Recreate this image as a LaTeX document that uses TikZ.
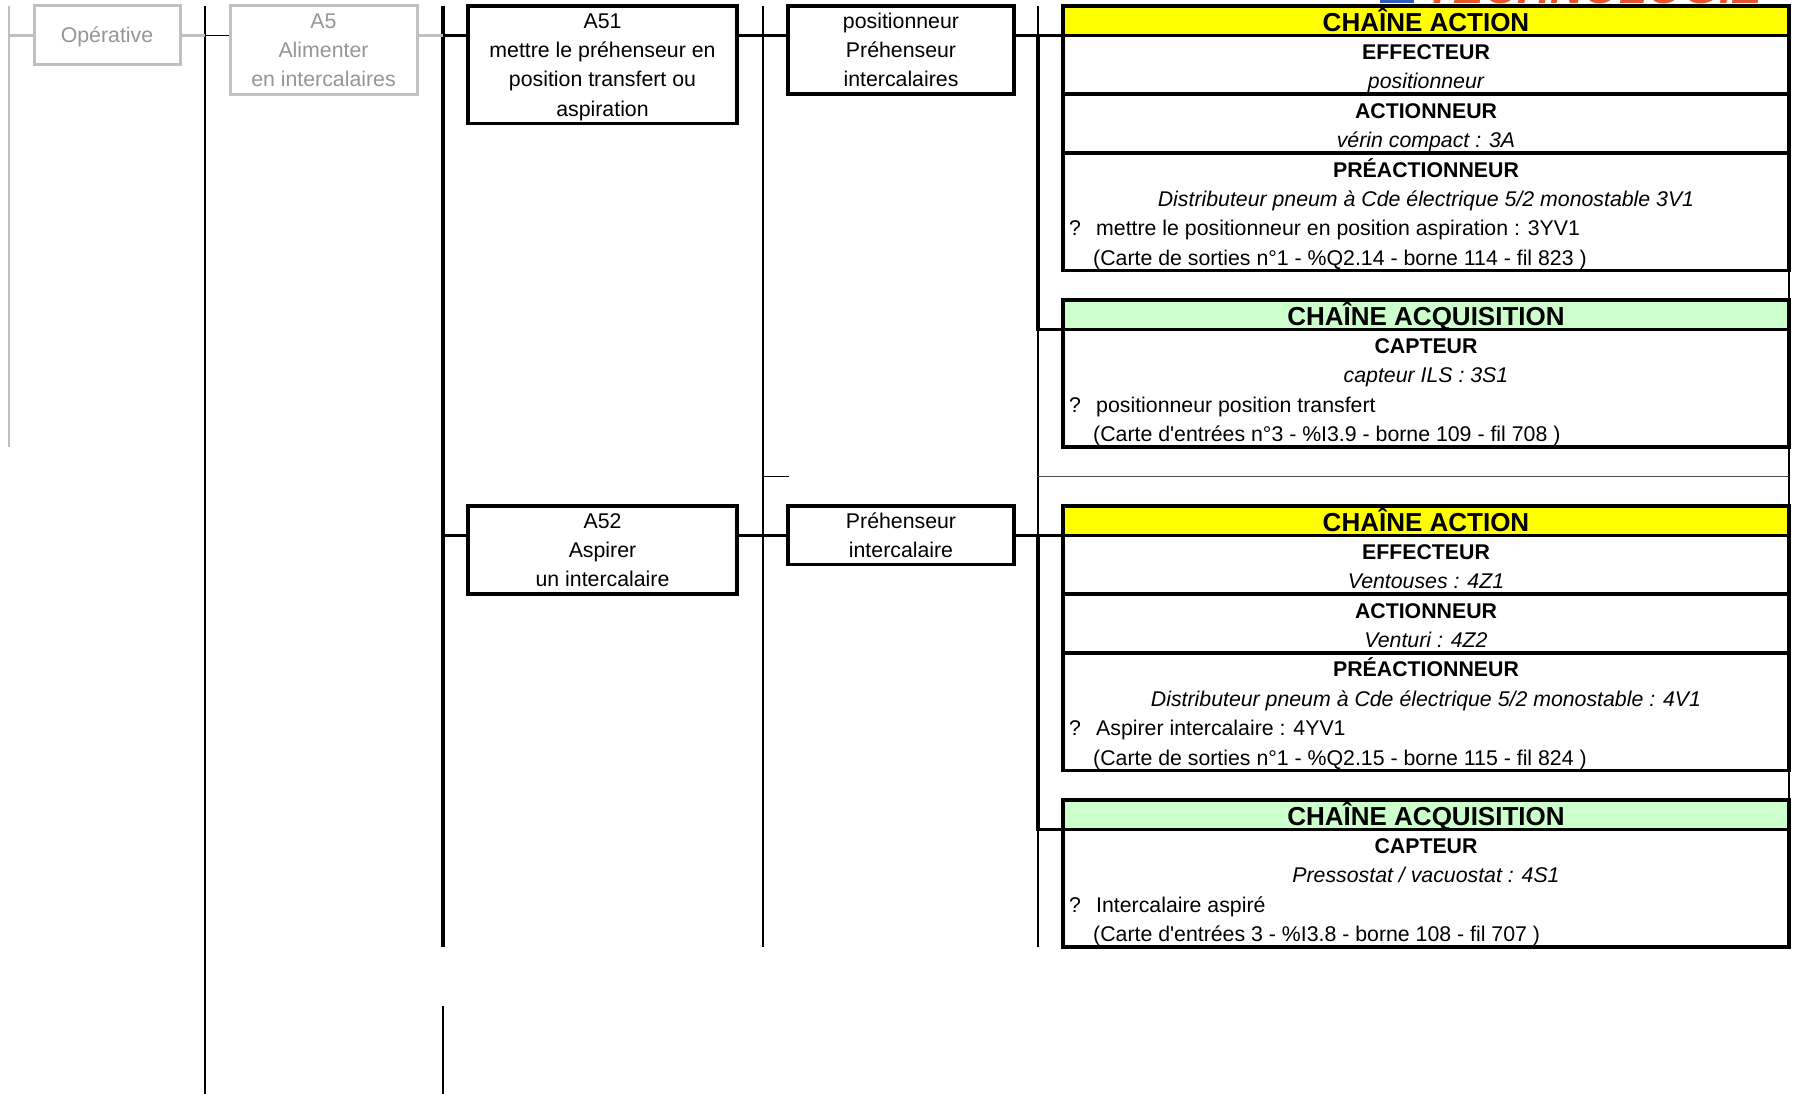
\documentclass[tikz,border=0pt]{standalone}
\usepackage{fontspec}
\newfontfamily\af{Liberation Sans}
\newcommand\boxstrut{\rule[-6pt]{0pt}{27pt}}
\definecolor{hdryellow}{HTML}{FFFF00}
\definecolor{hdrgreen}{HTML}{CCFFCC}
\definecolor{greyline}{HTML}{C0C0C0}
\definecolor{greytext}{HTML}{969696}
\definecolor{logoorange}{HTML}{E8552D}
\definecolor{logoblue}{HTML}{2F5DB5}
\tikzset{
  txt/.style={font=\af\fontsize{21.3}{29.4}\selectfont, inner sep=0pt},
  itx/.style={font=\af\itshape\fontsize{21.3}{29.4}\selectfont, inner sep=0pt},
  btx/.style={font=\af\bfseries\fontsize{21.3}{29.4}\selectfont, inner sep=0pt},
  htx/.style={font=\af\bfseries\fontsize{26}{29.4}\selectfont, inner sep=0pt},
  bx/.style={draw, line width=3.4pt, fill=white, inner sep=0pt, align=center,
             font=\af\fontsize{21.3}{29.4}\selectfont},
  gbx/.style={bx, draw=greyline, line width=3pt, text=greytext},
  sec/.style={draw, line width=3.4pt, fill=white, inner sep=0pt, minimum width=726pt},
  thickl/.style={line width=3.4pt, line join=miter},
  thinl/.style={line width=1.4pt},
  gline/.style={draw=greyline, line width=2.3pt},
}
\begin{document}
\begin{tikzpicture}[x=1pt,y=-1pt]
\useasboundingbox (0,0) rectangle (1798,1094);
\fill[white] (0,0) rectangle (1798,1094);

% logo fragment cut at the top
\begin{scope}
\clip (0,0) rectangle (1798,1094);
\fill[logoblue] (1380,0) rectangle (1414,3);
\node[anchor=base west, inner sep=0pt, text=logoorange,
      font=\af\bfseries\itshape\fontsize{46}{46}\selectfont] (logo) at (1425,3.5) {TECHNOLOGIE};
\end{scope}

% bus coordinates
\coordinate (gT) at (9,6);    \coordinate (gB) at (9,447);   \coordinate (jG) at (9,35.4);
\coordinate (b1T) at (205,6); \coordinate (b1B) at (205,1094); \coordinate (j1) at (205,35.4);
\coordinate (b2T) at (443,6); \coordinate (b2B) at (443,946.8);
\coordinate (b2lT) at (443,1005.6); \coordinate (b2lB) at (443,1094);
\coordinate (j2a) at (443,35.4); \coordinate (j2b) at (443,535.2);
\coordinate (b3T) at (763,6); \coordinate (b3B) at (763,946.8); \coordinate (b3s) at (763,476.4); \coordinate (b3e) at (789,476.4);
\coordinate (b4T) at (1038,6); \coordinate (b4B) at (1038,946.8);
\coordinate (j4a) at (1038,35.4); \coordinate (k4a) at (1038,329.4);
\coordinate (j4b) at (1038,535.2); \coordinate (k4b) at (1038,829.2);
\coordinate (sepL) at (1038,476.4); \coordinate (sepR) at (1789,476.4);
\coordinate (rT) at (1789,6); \coordinate (rB) at (1789,946.8);

% background rules
\draw[gline] (gT) -- (gB);
\draw[thinl] (b1T) -- (b1B);
\draw[thickl] (b2T) -- (b2B);
\draw[thinl] (b2lT) -- (b2lB);
\draw[thinl] (b3T) -- (b3B);
\draw[thinl] (b3s) -- (b3e);
\draw[thinl] (b4T) -- (b4B);
\draw[thinl] (rT) -- (rB);
\draw[thinl, black!70] (sepL) -- (sepR);

% function boxes
\node[gbx, minimum width=146pt, minimum height=58.8pt] (oper) at (107,35.4) {\boxstrut Opérative\boxstrut};
\node[gbx, minimum width=187pt, minimum height=88.2pt] (a5) at (323.5,50.1) {\boxstrut A5\\Alimenter\\en intercalaires\boxstrut};
\node[bx, minimum width=269pt, minimum height=117.6pt] (a51) at (602.5,64.8) {\boxstrut A51\\mettre le préhenseur en\\position transfert ou\\aspiration\boxstrut};
\node[bx, minimum width=226pt, minimum height=88.2pt] (pos1) at (901,50.1) {\boxstrut positionneur\\Préhenseur\\intercalaires\boxstrut};
\node[bx, minimum width=269pt, minimum height=88.2pt] (a52) at (602.5,549.9) {\boxstrut A52\\Aspirer\\un intercalaire\boxstrut};
\node[bx, minimum width=226pt, minimum height=58.8pt] (preh2) at (901,535.2) {\boxstrut Préhenseur\\intercalaire\boxstrut};

% chain boxes, section 1
\node[sec, fill=hdryellow, minimum height=29.4pt] (hdr1) at (1426,20.7) {};
\node[sec, minimum height=58.8pt] (eff1) at (1426,64.8) {};
\node[sec, minimum height=58.8pt] (act1) at (1426,123.6) {};
\node[sec, minimum height=117.6pt] (pre1) at (1426,211.8) {};
\node[sec, fill=hdrgreen, minimum height=29.4pt] (hacq1) at (1426,314.7) {};
\node[sec, minimum height=117.6pt] (cap1) at (1426,388.2) {};
% chain boxes, section 2
\node[sec, fill=hdryellow, minimum height=29.4pt] (hdr2) at (1426,520.5) {};
\node[sec, minimum height=58.8pt] (eff2) at (1426,564.6) {};
\node[sec, minimum height=58.8pt] (act2) at (1426,623.4) {};
\node[sec, minimum height=117.6pt] (pre2) at (1426,711.6) {};
\node[sec, fill=hdrgreen, minimum height=29.4pt] (hacq2) at (1426,814.5) {};
\node[sec, minimum height=117.6pt] (cap2) at (1426,888) {};

% connectors
\draw[gline] (jG) -- (oper.west |- jG);
\draw[gline] (oper.east |- jG) -- (j1);
\draw[thinl] (j1) -- (a5.west |- j1);
\draw[gline] (a5.east |- j1) -- (j2a);
\draw[thickl] (j2a) -- (a51.west |- j2a);
\draw[thickl] (a51.east |- j2a) -- (pos1.west |- j2a);
\draw[thickl] (pos1.east |- j4a) -- (j4a) -- (hdr1.west |- j4a);
\draw[thickl] (j4a) -- (k4a) -- (cap1.west |- k4a);
\draw[thickl] (j2b) -- (a52.west |- j2b);
\draw[thickl] (a52.east |- j2b) -- (preh2.west |- j2b);
\draw[thickl] (preh2.east |- j4b) -- (j4b) -- (hdr2.west |- j4b);
\draw[thickl] (j4b) -- (k4b) -- (cap2.west |- k4b);

% texts, section 1
\node[htx, anchor=base] (t1) at (1426,31.4) {CHAÎNE ACTION};
\node[btx, anchor=base] (t2) at (1426,59.5) {EFFECTEUR};
\node[itx, anchor=base] (t3) at (1426,88.9) {positionneur};
\node[btx, anchor=base] (t4) at (1426,118.3) {ACTIONNEUR};
\node[itx, anchor=base] (t5) at (1426,147.7) {vérin compact : 3A};
\node[btx, anchor=base] (t6) at (1426,177.1) {PRÉACTIONNEUR};
\node[itx, anchor=base] (t7) at (1426,206.5) {Distributeur pneum à Cde électrique 5/2 monostable 3V1};
\node[txt, anchor=base west] (q1) at (1069,235.9) {?};
\node[txt, anchor=base west] (t8) at (1096,235.9) {mettre le positionneur en position aspiration : 3YV1};
\node[txt, anchor=base west] (t9) at (1093,265.3) {(Carte de sorties n°1 - \%Q2.14 - borne 114 - fil 823 )};
\node[htx, anchor=base] (t10) at (1426,325.4) {CHAÎNE ACQUISITION};
\node[btx, anchor=base] (t11) at (1426,353.5) {CAPTEUR};
\node[itx, anchor=base] (t12) at (1426,382.9) {capteur ILS : 3S1};
\node[txt, anchor=base west] (q2) at (1069,412.3) {?};
\node[txt, anchor=base west] (t13) at (1096,412.3) {positionneur position transfert};
\node[txt, anchor=base west] (t14) at (1093,441.7) {(Carte d'entrées n°3 - \%I3.9 - borne 109 - fil 708 )};

% texts, section 2
\node[htx, anchor=base] (u1) at (1426,531.2) {CHAÎNE ACTION};
\node[btx, anchor=base] (u2) at (1426,559.3) {EFFECTEUR};
\node[itx, anchor=base] (u3) at (1426,588.7) {Ventouses : 4Z1};
\node[btx, anchor=base] (u4) at (1426,618.1) {ACTIONNEUR};
\node[itx, anchor=base] (u5) at (1426,647.5) {Venturi : 4Z2};
\node[btx, anchor=base] (u6) at (1426,676.9) {PRÉACTIONNEUR};
\node[itx, anchor=base] (u7) at (1426,706.3) {Distributeur pneum à Cde électrique 5/2 monostable : 4V1};
\node[txt, anchor=base west] (q3) at (1069,735.7) {?};
\node[txt, anchor=base west] (u8) at (1096,735.7) {Aspirer intercalaire : 4YV1};
\node[txt, anchor=base west] (u9) at (1093,765.1) {(Carte de sorties n°1 - \%Q2.15 - borne 115 - fil 824 )};
\node[htx, anchor=base] (u10) at (1426,825.2) {CHAÎNE ACQUISITION};
\node[btx, anchor=base] (u11) at (1426,853.3) {CAPTEUR};
\node[itx, anchor=base] (u12) at (1426,882.7) {Pressostat / vacuostat : 4S1};
\node[txt, anchor=base west] (q4) at (1069,912.1) {?};
\node[txt, anchor=base west] (u13) at (1096,912.1) {Intercalaire aspiré};
\node[txt, anchor=base west] (u14) at (1093,941.5) {(Carte d'entrées 3 - \%I3.8 - borne 108 - fil 707 )};
\end{tikzpicture}
\end{document}
